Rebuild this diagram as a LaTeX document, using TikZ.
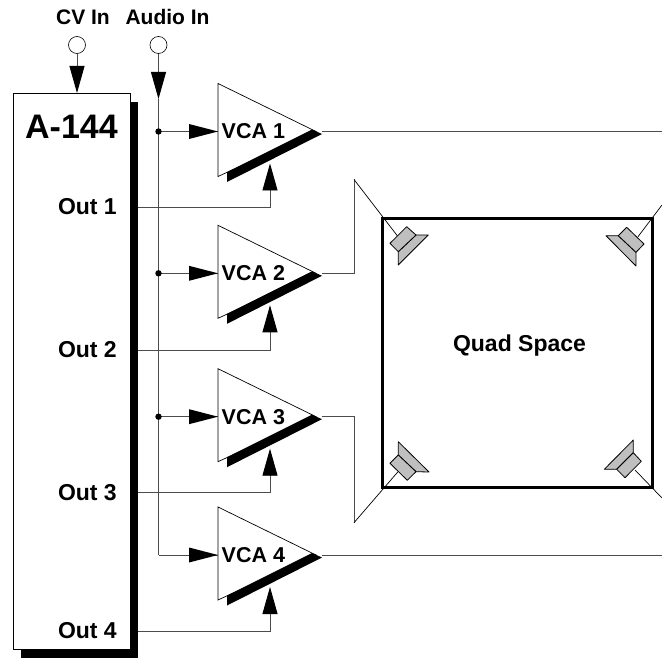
\documentclass[tikz,border=0pt]{standalone}
\usepackage{fontspec}
\setmainfont{Liberation Sans}
\usetikzlibrary{arrows.meta}
\definecolor{wire}{gray}{0.3}
\definecolor{cone}{gray}{0.75}
\tikzset{
  x=1pt,y=-1pt,
  wireline/.style={draw=wire,line width=0.9pt},
  thinline/.style={draw=black,line width=0.7pt},
  headtip/.tip={Triangle[length=27pt,width=15pt,color=black]},
  sig/.style={wireline,-headtip},
  jack/.style={circle,draw=black,line width=0.6pt,fill=white,minimum size=17pt,inner sep=0pt},
  lab/.style={font=\bfseries\fontsize{21}{21}\selectfont,inner sep=0pt,anchor=base},
  outlab/.style={font=\bfseries\fontsize{23}{23}\selectfont,inner sep=0pt,anchor=base east},
  spk/.style={draw=black,line width=0.8pt,fill=cone,line join=round},
}
\begin{document}
\begin{tikzpicture}
\useasboundingbox (0,0) rectangle (662,658);
% A-144 module
\fill[black] (21,102) rectangle (138,658);
\node[draw=black,line width=0.8pt,fill=white,minimum width=116.5pt,minimum height=556pt,inner sep=0pt,anchor=north west,outer sep=0pt] (module) at (13.5,93) {};
\node[font=\bfseries\fontsize{34}{34}\selectfont,inner sep=0pt,anchor=base] (title) at (71.5,139) {A-144};
% jacks
\node[jack] (cvjack) at (77,45) {};
\node[jack] (audiojack) at (158.5,45) {};
\node[lab] (cvlab) at (83,25) {CV In};
\node[lab] (audiolab) at (167.5,25) {Audio In};
\coordinate (cvin) at (77,93);
\draw[sig] (cvjack) -- (cvin);
\coordinate (a0) at (158.5,99);
\coordinate (a4) at (158.5,555);
\draw[sig] (audiojack) -- (a0);
\draw[wireline] (a0) -- (a4);
% VCAs
\foreach \n/\y/\oy in {1/131.5/207,2/273.3/350,3/416.7/492.7,4/555/631.3}{
  \coordinate (in\n) at (218,\y);
  \coordinate (ctl\n) at (270,\y+32);
  \coordinate (ctlb\n) at (270,\oy);
  \coordinate (out\n) at (138,\oy);
  \coordinate (tip\n) at (322,\y);
  \coordinate (tap\n) at (158.5,\y);
  \draw[thinline,fill=white] (218,\y-48) -- (218,\y+45) -- (316,\y) -- cycle;
  \fill[black] (227,\y+40.5) -- (227,\y+50.5) -- (322,\y+2.5) -- (312,\y-2) -- cycle;
  \node[font=\bfseries\fontsize{21.5}{21.5}\selectfont,inner sep=0pt,anchor=base west] (vca\n) at (221.5,\y+7.5) {VCA \n};
  \draw[wireline] (tap\n) -- (in\n);
  \draw[sig] (out\n) -- (ctlb\n) -- (ctl\n);
  \node[outlab] (olab\n) at (117,\oy+7.5) {Out \n};
  \fill[black] (218,\y) -- (189,\y-7.5) -- (189,\y+7.5) -- cycle;
}
\foreach \n in {1,2,3}{
  \fill[black] (tap\n) circle (3.2pt);
}
% Quad space
\node[draw=black,line width=3pt,minimum width=269.3pt,minimum height=269.4pt,inner sep=0pt,outer sep=0pt,anchor=north west] (room) at (382.7,218.3) {};
\node[font=\bfseries\fontsize{23}{23}\selectfont,inner sep=0pt] (roomlab) at (519.5,345.5) {Quad Space};
% outputs
\coordinate (e1) at (662,131.5);
\coordinate (e4) at (662,555);
\draw[wireline] (tip1) -- (e1);
\draw[wireline] (tip4) -- (e4);
\coordinate (s2a) at (354,273.3);
\coordinate (s2b) at (354,179.5);
\coordinate (spkTL) at (397.5,236);
\draw[wireline] (tip2) -- (s2a) -- (s2b);
\draw[thinline] (s2b) -- (spkTL);
\coordinate (s3a) at (354,416.7);
\coordinate (s3b) at (354,522.7);
\coordinate (spkBL) at (398,471.7);
\draw[wireline] (tip3) -- (s3a) -- (s3b);
\draw[thinline] (s3b) -- (spkBL);
\coordinate (eTR) at (662,205);
\coordinate (spkTR) at (638,236.7);
\draw[thinline] (eTR) -- (spkTR);
\coordinate (eBR) at (662,498);
\coordinate (spkBR) at (635,470);
\draw[thinline] (eBR) -- (spkBR);
% speakers
\draw[spk] (416,235) -- (428.3,235) -- (398.3,265) -- (398.3,251.7) -- cycle;
\draw[spk] (406.7,226.7) -- (416,235) -- (398.3,251.7) -- (390,243.3) -- cycle;
\draw[spk] (618.3,235.7) -- (606,235.7) -- (636,266) -- (636,252.3) -- cycle;
\draw[spk] (626.7,227.3) -- (644,244) -- (636,252.3) -- (618.3,235.7) -- cycle;
\draw[spk] (398.3,455) -- (398.3,441.7) -- (429,472) -- (416,471.7) -- cycle;
\draw[spk] (390,463.3) -- (398.3,455) -- (416,471.7) -- (407.3,480.3) -- cycle;
\draw[spk] (633.3,452.7) -- (633.3,440) -- (604.3,469.3) -- (616.7,469.3) -- cycle;
\draw[spk] (633.3,452.7) -- (641.3,461.3) -- (625,477.7) -- (616.7,469.3) -- cycle;
\end{tikzpicture}
\end{document}
